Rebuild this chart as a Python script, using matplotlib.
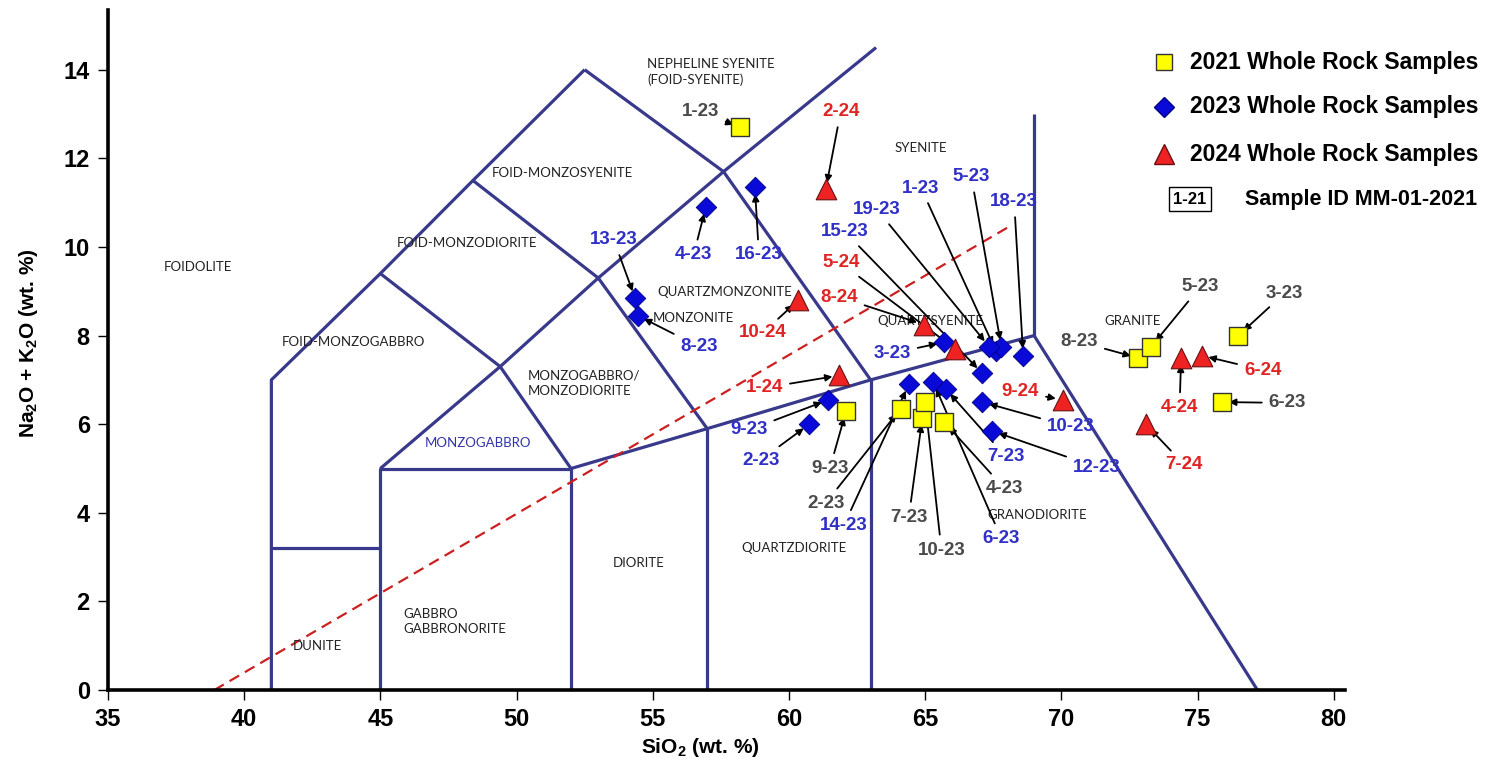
import matplotlib.pyplot as plt

plt.rcParams['font.family'] = ['Liberation Sans', 'DejaVu Sans']
plt.rcParams['mathtext.fontset'] = 'custom'
plt.rcParams['mathtext.rm'] = 'Liberation Sans:bold'
plt.rcParams['mathtext.it'] = 'Liberation Sans:bold'
plt.rcParams['mathtext.bf'] = 'Liberation Sans:bold'

BOLD = ['Liberation Sans', 'DejaVu Sans']
FIELD = ['Lato', 'DejaVu Sans']

# --- 2021 whole rock samples (yellow squares) ---
ids_2021 = ['1-23', '9-23', '2-23', '7-23', '10-23', '4-23', '8-23', '5-23', '3-23', '6-23']
sio2_2021 = [58.2, 62.1, 64.1, 64.9, 65.0, 65.7, 72.8, 73.3, 76.5, 75.9]
alk_2021 = [12.7, 6.3, 6.35, 6.15, 6.5, 6.05, 7.5, 7.75, 8.0, 6.5]

# --- 2023 whole rock samples (blue diamonds) ---
ids_2023 = ['1-23', '5-23', '19-23', '15-23', '18-23', '3-23', '13-23', '8-23', '4-23',
            '16-23', '9-23', '2-23', '14-23', '6-23', '7-23', '10-23', '12-23']
sio2_2023 = [67.6, 67.8, 67.35, 67.1, 68.6, 65.7, 54.35, 54.45, 56.95,
             58.75, 61.45, 60.75, 64.4, 65.3, 65.75, 67.1, 67.45]
alk_2023 = [7.65, 7.75, 7.75, 7.15, 7.55, 7.85, 8.85, 8.45, 10.9,
            11.35, 6.55, 6.0, 6.9, 6.95, 6.8, 6.5, 5.85]

# --- 2024 whole rock samples (red triangles) ---
ids_2024 = ['2-24', '10-24', '1-24', '8-24', '5-24', '9-24', '4-24', '6-24', '7-24']
sio2_2024 = [61.35, 60.35, 61.85, 64.95, 66.1, 70.05, 74.4, 75.15, 73.1]
alk_2024 = [11.3, 8.8, 7.1, 8.25, 7.7, 6.55, 7.5, 7.55, 6.0]

# label placement (text centre, data units)
lab_2021 = [(56.75, 13.06), (61.5, 5.0), (61.35, 4.22), (64.4, 3.9), (65.6, 3.16),
            (67.9, 4.56), (70.66, 7.86), (75.1, 9.1), (78.2, 8.96), (78.3, 6.48)]
lab_2023 = [(64.85, 11.33), (66.7, 11.58), (63.24, 10.84), (62.06, 10.34), (68.27, 11.02),
            (63.79, 7.6), (53.57, 10.16), (56.7, 7.75), (56.5, 9.82), (58.9, 9.82),
            (58.53, 5.87), (58.96, 5.19), (62.02, 3.72), (67.8, 3.42), (67.96, 5.27),
            (70.35, 5.94), (71.3, 5.03)]
lab_2024 = [(61.9, 13.05), (59.04, 8.06), (59.1, 6.82), (61.84, 8.87), (61.9, 9.64),
            (68.5, 6.73), (74.34, 6.37), (77.39, 7.22), (74.52, 5.08)]

# TAS (plutonic) field boundaries
tas_lines = [
    [(41, 0), (41, 7), (45, 9.4), (48.4, 11.5), (52.5, 14)],
    [(41, 3.2), (45, 3.2)],
    [(45, 0), (45, 5), (52, 5), (52, 0)],
    [(45, 5), (49.4, 7.3), (53, 9.3), (57.6, 11.7), (63.2, 14.5)],
    [(52, 5), (57, 5.9), (63, 7), (69, 8), (77.2, 0)],
    [(57, 0), (57, 5.9)],
    [(63, 0), (63, 7)],
    [(52, 5), (49.4, 7.3), (45, 9.4)],
    [(57, 5.9), (53, 9.3), (48.4, 11.5)],
    [(63, 7), (57.6, 11.7), (52.5, 14)],
    [(69, 8), (69, 13)],
]
alk_divider = [(38.9, 0), (68.2, 10.5)]

field_labels = [
    ('FOIDOLITE', 38.3, 9.55, 'center'),
    ('FOID-MONZOSYENITE', 51.7, 11.67, 'center'),
    ('FOID-MONZODIORITE', 48.2, 10.1, 'center'),
    ('FOID-MONZOGABBRO', 44.0, 7.85, 'center'),
    ('NEPHELINE SYENITE\n(FOID-SYENITE)', 54.8, 13.95, 'left'),
    ('SYENITE', 64.85, 12.23, 'center'),
    ('QUARTZMONZONITE', 57.65, 8.98, 'center'),
    ('MONZONITE', 56.5, 8.4, 'center'),
    ('MONZOGABBRO/\nMONZODIORITE', 50.4, 6.92, 'left'),
    ('DIORITE', 54.5, 2.87, 'center'),
    ('QUARTZDIORITE', 60.2, 3.2, 'center'),
    ('GABBRO\nGABBRONORITE', 45.85, 1.55, 'left'),
    ('DUNITE', 42.7, 1.0, 'center'),
    ('QUARTZSYENITE', 65.2, 8.33, 'center'),
    ('GRANITE', 72.6, 8.33, 'center'),
    ('GRANODIORITE', 69.1, 3.95, 'center'),
]

line_col = '#39398c'
gray_col = '#4a4a4a'
blue_col = '#3030c8'
red_col = '#e02424'

fig = plt.figure(figsize=(14.99, 7.6), dpi=100)
ax = fig.add_axes([0.072, 0.092, 0.825, 0.895])
ax.set_xlim(35, 80.4)
ax.set_ylim(0, 15.35)

for seg in tas_lines:
    xs, ys = zip(*seg)
    ax.plot(xs, ys, color=line_col, lw=2.3, solid_capstyle='butt', zorder=2)
xs, ys = zip(*alk_divider)
ax.plot(xs, ys, color='#cc2020', lw=1.6, dashes=(5, 3), zorder=2)

for txt, x, y, ha in field_labels:
    ax.text(x, y, txt, ha=ha, va='center', fontsize=9.5, family=FIELD,
            color='#222222', linespacing=1.3, zorder=3)
ax.text(48.6, 5.58, 'MONZOGABBRO', ha='center', va='center', fontsize=9.5,
        family=FIELD, color='#3333aa', zorder=3)


def annotate_group(ids, xs, ys, labs, color):
    for name, x, y, (tx, ty) in zip(ids, xs, ys, labs):
        ax.annotate(name, xy=(x, y), xytext=(tx, ty), ha='center', va='center',
                    fontsize=13.5, fontweight='bold', family=BOLD, color=color,
                    arrowprops=dict(arrowstyle='-|>', color='black', lw=1.3,
                                    mutation_scale=10, shrinkA=3, shrinkB=5),
                    zorder=4)


annotate_group(ids_2021, sio2_2021, alk_2021, lab_2021, gray_col)
annotate_group(ids_2023, sio2_2023, alk_2023, lab_2023, blue_col)
annotate_group(ids_2024, sio2_2024, alk_2024, lab_2024, red_col)

ax.scatter(sio2_2021, alk_2021, marker='s', s=160, c='#ffff00', edgecolors='#333333',
           linewidths=1.0, zorder=6)
ax.scatter(sio2_2023, alk_2023, marker='D', s=110, c='#0a0ad8', edgecolors='#000080',
           linewidths=0.6, zorder=6)
ax.scatter(sio2_2024, alk_2024, marker='^', s=220, c='#ee2222', edgecolors='#661111',
           linewidths=0.8, zorder=6)

# axes styling
for side in ['top', 'right']:
    ax.spines[side].set_visible(False)
for side in ['left', 'bottom']:
    ax.spines[side].set_linewidth(2.6)
ax.set_xticks(range(35, 81, 5))
ax.set_yticks(range(0, 15, 2))
ax.tick_params(axis='both', direction='out', length=7, width=1.0, pad=6)
for lbl in ax.get_xticklabels() + ax.get_yticklabels():
    lbl.set_family(BOLD)
    lbl.set_fontweight('bold')
    lbl.set_fontsize(17)

ax.set_xlabel(r'SiO$_2$ (wt. %)', fontsize=15, fontweight='bold', family=BOLD)
ax.set_ylabel(r'Na$_2$O + K$_2$O (wt. %)', fontsize=15, fontweight='bold', family=BOLD)
ax.xaxis.set_label_coords(0.479, -0.068)
ax.yaxis.set_label_coords(-0.055, 0.51)

# legend drawn by hand in figure coordinates
W, H = 1499, 760
def fx(px):
    return px / W
def fy(py):
    return 1 - py / H

leg_items = [('s', '#ffff00', '#333333', 11, '2021 Whole Rock Samples', 62),
             ('D', '#0a0ad8', '#000080', 10, '2023 Whole Rock Samples', 107),
             ('^', '#ee2222', '#661111', 14, '2024 Whole Rock Samples', 154)]
for mk, fc, ec, ms, txt, py in leg_items:
    fig.add_artist(plt.Line2D([fx(1164)], [fy(py)], marker=mk, markersize=ms,
                              markerfacecolor=fc, markeredgecolor=ec, linestyle='none'))
    fig.text(fx(1190), fy(py), txt, ha='left', va='center', fontsize=16.5,
             fontweight='bold', family=BOLD)
fig.text(fx(1190), fy(199), '1-21', ha='center', va='center', fontsize=12,
         fontweight='bold', family=BOLD,
         bbox=dict(boxstyle='square,pad=0.25', fc='white', ec='black', lw=1.0))
fig.text(fx(1245), fy(199), 'Sample ID MM-01-2021', ha='left', va='center', fontsize=15.5,
         fontweight='bold', family=BOLD)

fig.savefig('out.png', dpi=100)
